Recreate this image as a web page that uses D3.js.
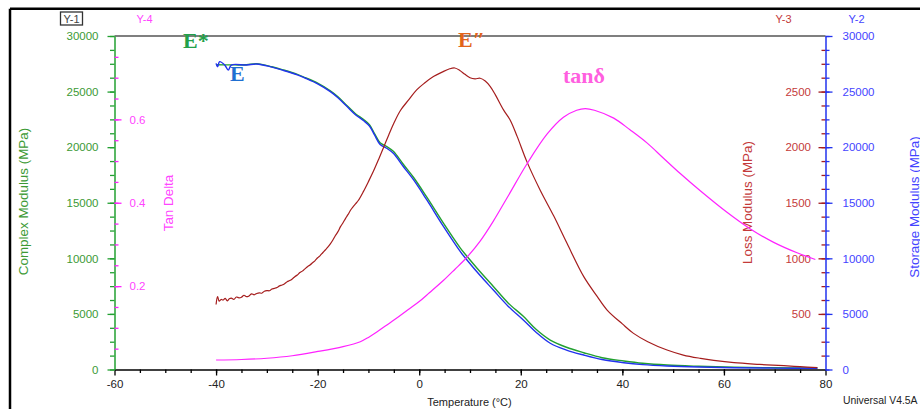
<!DOCTYPE html>
<html>
<head>
<meta charset="utf-8">
<script src="https://cdn.jsdelivr.net/npm/d3@7"></script>
<style>
  body { margin: 0; background: #fff; }
  svg { display: block; }
  text { font-family: "Liberation Sans", Arial, sans-serif; }
</style>
</head>
<body>
<svg id="chart" width="920" height="409"></svg>
<script>
// ---- DMA sweep data (temperature in °C) ----
const storageTemp = [-40,-39.7,-39.3,-38.3,-37.6,-37,-34,-32,-29,-26.7,-24,-22.4,-20,-17.5,-16,-14.2,-12.5,-11,-9.8,-8.8,-7.7,-6.4,-5.1,-3.1,-1.1,1.5,4.8,8.1,9.4,12,14.6,17.5,20.5,23,25.8,29,32.4,36,40.3,44,48.8,55,62,70,78.4];
const storageModulus = [27540,27240,27690,27390,26940,27390,27390,27480,27200,26900,26500,26200,25700,25000,24450,23650,22900,22400,21900,21100,20250,19900,19450,18240,17050,15250,12850,10600,9850,8450,7150,5700,4450,3350,2360,1750,1300,900,610,440,315,220,160,125,108];

const complexTemp = [-40,-37,-34,-32,-29,-26.7,-24,-22.4,-20,-17.5,-16,-14.2,-12.5,-11,-9.8,-8.8,-7.7,-6.4,-5.1,-3.1,-1.1,1.5,4.8,8.1,9.4,12,14.6,17.5,20.5,23,25.8,29,32.4,36,40.3,44,48.8,55,62,70,78.4];
const complexModulus = [27420,27400,27410,27500,27230,26940,26550,26250,25760,25070,24530,23730,22990,22500,22020,21230,20400,20060,19630,18440,17270,15500,13140,10920,10190,8790,7470,5990,4780,3620,2650,2000,1510,1060,765,560,400,290,200,160,135];

const lossTemp = [-40,-39.7,-39.4,-39,-38.6,-38.2,-37.8,-37.4,-37,-36.5,-36,-35.5,-35,-34.5,-34,-33.5,-33,-32.5,-32,-31.5,-31,-30.5,-30,-29.5,-29,-28.5,-28,-27.5,-27,-26.5,-26,-25.5,-25,-24.5,-24,-23.5,-23,-22.5,-22,-21.5,-21,-20.5,-20,-19.5,-19,-18.5,-18,-17.5,-17,-16.5,-16,-15.5,-15,-14.5,-14,-13.5,-13,-12.5,-12,
  -11,-10,-9,-8,-7,-6,-5,-3.7,-2,-0.5,1,2.8,4.5,6,7,8,9,10,11,12,13,14,15,16.6,17.9,19.3,21.2,23.8,26.5,29.1,32.4,35,37,40,42.2,45,48.8,52,55.4,58,62,67,71.8,75,78.4];
const lossModulus = [585,655,615,630,625,640,618,636,642,630,652,645,650,668,655,662,680,672,684,690,686,704,710,708,724,730,738,752,760,772,790,800,815,835,850,872,885,905,925,940,960,980,1005,1025,1050,1075,1100,1130,1165,1205,1240,1285,1320,1360,1395,1435,1465,1492,1520,
  1600,1690,1785,1890,2000,2110,2215,2330,2430,2515,2575,2635,2675,2705,2712,2690,2655,2625,2615,2620,2595,2545,2470,2335,2245,2095,1870,1615,1380,1135,835,660,535,410,325,250,175,130,100,82,61,46,34,25,16];

const tanTemp = [-40,-35,-30,-25,-20.2,-15,-11.6,-10,-8,-6,-4,-2,0,2,4.8,7,9.3,12,14.6,17.6,21.2,25.2,28.4,31,32.7,34.5,38.3,41.5,44.9,48,51.4,55.4,60.6,65.2,69.8,74.4,78];
const tanDelta = [0.0228,0.024,0.027,0.033,0.0427,0.055,0.0667,0.077,0.093,0.11,0.127,0.145,0.163,0.184,0.214,0.24,0.268,0.308,0.356,0.418,0.493,0.565,0.605,0.622,0.626,0.622,0.603,0.575,0.543,0.508,0.47,0.428,0.377,0.337,0.305,0.28,0.264];

// axis ticks
const tempTicks = [-60,-40,-20,0,20,40,60,80];
const modulusTicks = [0,5000,10000,15000,20000,25000,30000];
const lossTicks = [500,1000,1500,2000,2500];
const tanTicks = [0.2,0.4,0.6];

(function draw() {
  const svg = d3.select("#chart");
  const pL = 114.5, pR = 825.5, pT = 36, pB = 369.5;

  const x = d3.scaleLinear([-60, 80], [pL, pR]);
  const yComplex = d3.scaleLinear([0, 30000], [pB, pT]);
  const yStorage = d3.scaleLinear([0, 30000], [pB, pT]);
  const yLoss = d3.scaleLinear([0, 3000], [pB, pT]);
  const yTan = d3.scaleLinear([0, 0.8], [pB, pT]);

  const C = {
    green: "#22a030", greenText: "#3c9a35",
    blue: "#2233ee", blueText: "#4444ff",
    red: "#a51d1d", redText: "#c43a3a",
    magenta: "#ff22ff", magentaText: "#ff44ff"
  };
  const plain = d3.format("d");

  // outer frame (top and left edges)
  svg.append("line").attr("x1", 10).attr("x2", 920).attr("y1", 8.7).attr("y2", 8.7)
    .attr("stroke", "#000").attr("stroke-width", 2.5);
  svg.append("line").attr("x1", 10).attr("x2", 10).attr("y1", 8.7).attr("y2", 409)
    .attr("stroke", "#000").attr("stroke-width", 2.5);

  // top border of plot
  svg.append("line").attr("x1", pL).attr("x2", pR).attr("y1", pT).attr("y2", pT)
    .attr("stroke", "#555").attr("stroke-width", 1.4);

  function paint(g, stroke, fill, size, keepDomain) {
    g.attr("font-size", null).attr("font-family", null);
    if (!keepDomain) g.select(".domain").remove();
    g.select(".domain").attr("stroke", stroke).attr("stroke-width", 1.5);
    g.selectAll(".tick line").attr("stroke", stroke).attr("stroke-width", 1.3);
    g.selectAll(".tick text").attr("fill", fill).style("font-size", size + "px");
  }

  // bottom temperature axis
  svg.append("g").attr("transform", `translate(0,${pB})`)
    .call(d3.axisBottom(x).tickValues(d3.range(-55, 80, 5)).tickSize(3.5).tickFormat(""))
    .call(g => paint(g, "#000", "#000", 11.5, false));
  svg.append("g").attr("transform", `translate(0,${pB})`)
    .call(d3.axisBottom(x).tickValues(tempTicks).tickSize(6).tickSizeOuter(0).tickPadding(4).tickFormat(d => String(d)))
    .call(g => paint(g, "#000", "#222", 11.5, true));

  // left: complex modulus (Y-1)
  svg.append("g").attr("transform", `translate(${pL},0)`)
    .call(d3.axisLeft(yComplex).tickValues(d3.range(0, 30001, 1250)).tickSize(4.5).tickFormat(""))
    .call(g => paint(g, C.green, C.greenText, 11.5, false));
  svg.append("g").attr("transform", `translate(${pL},0)`)
    .call(d3.axisLeft(yComplex).tickValues(modulusTicks).tickSize(7).tickSizeOuter(0).tickPadding(9).tickFormat(plain))
    .call(g => paint(g, C.green, C.greenText, 11.5, true));

  // left inner: tan delta (Y-4)
  svg.append("g").attr("transform", `translate(${pL},0)`)
    .call(d3.axisRight(yTan).tickValues(d3.range(1, 16).map(i => i * 0.05)).tickSize(4).tickFormat(""))
    .call(g => paint(g, C.magenta, C.magentaText, 11.5, false));
  svg.append("g").attr("transform", `translate(${pL},0)`)
    .call(d3.axisRight(yTan).tickValues(tanTicks).tickSize(7).tickPadding(8).tickFormat(d3.format(".1f")))
    .call(g => paint(g, C.magenta, C.magentaText, 11.5, false));

  // right: storage modulus (Y-2) and loss modulus (Y-3)
  svg.append("g").attr("transform", `translate(${pR},0)`)
    .call(d3.axisLeft(yLoss).tickValues(d3.range(125, 3000, 125)).tickSize(4).tickFormat(""))
    .call(g => paint(g, C.red, C.redText, 11.5, false));
  svg.append("g").attr("transform", `translate(${pR},0)`)
    .call(d3.axisLeft(yLoss).tickValues(lossTicks).tickSize(7).tickPadding(7.5).tickFormat(plain))
    .call(g => paint(g, C.red, C.redText, 11.5, false));
  svg.append("g").attr("transform", `translate(${pR},0)`)
    .call(d3.axisRight(yStorage).tickValues(d3.range(0, 30001, 1250)).tickSize(4).tickFormat(""))
    .call(g => paint(g, C.blue, C.blueText, 11.5, false));
  svg.append("g").attr("transform", `translate(${pR},0)`)
    .call(d3.axisRight(yStorage).tickValues(modulusTicks).tickSize(7).tickSizeOuter(0).tickPadding(10).tickFormat(plain))
    .call(g => paint(g, C.blue, C.blueText, 11.5, true));

  // axis titles
  function vTitle(tx, ty, label, color) {
    svg.append("text").attr("transform", `translate(${tx},${ty}) rotate(-90)`)
      .attr("text-anchor", "middle").attr("fill", color).style("font-size", "13.4px").text(label);
  }
  vTitle(28, 201.5, "Complex Modulus (MPa)", C.greenText);
  vTitle(173, 203, "Tan Delta", C.magentaText);
  vTitle(752, 202.5, "Loss Modulus (MPa)", C.redText);
  vTitle(918.5, 207, "Storage Modulus (MPa)", C.blueText);

  svg.append("text").attr("x", 469.5).attr("y", 406).attr("text-anchor", "middle")
    .attr("fill", "#222").style("font-size", "11px").text("Temperature (°C)");
  svg.append("text").attr("x", 843).attr("y", 404)
    .attr("fill", "#222").style("font-size", "10.4px").text("Universal V4.5A");

  // axis identifiers
  svg.append("rect").attr("x", 60.5).attr("y", 12).attr("width", 22).attr("height", 13)
    .attr("fill", "none").attr("stroke", "#333").attr("stroke-width", 1.3);
  const ids = [
    { t: "Y-1", x: 71.5, c: "#444" },
    { t: "Y-4", x: 144.5, c: C.magentaText },
    { t: "Y-3", x: 783.5, c: C.redText },
    { t: "Y-2", x: 856.5, c: C.blueText }
  ];
  svg.selectAll("text.yid").data(ids).join("text").attr("class", "yid")
    .attr("x", d => d.x).attr("y", 22.5).attr("text-anchor", "middle")
    .attr("fill", d => d.c).style("font-size", "11px").text(d => d.t);

  // ---- curves ----
  function curve(temps, vals, yScale, color, width) {
    const pts = temps.map((t, i) => [t, vals[i]]);
    svg.append("path").datum(pts)
      .attr("fill", "none").attr("stroke", color).attr("stroke-width", width)
      .attr("stroke-linejoin", "round")
      .attr("d", d3.line().x(d => x(d[0])).y(d => yScale(d[1])).curve(d3.curveCatmullRom.alpha(0.5)));
  }
  curve(complexTemp, complexModulus, yComplex, C.green, 1.4);
  curve(storageTemp, storageModulus, yStorage, C.blue, 1.4);
  curve(lossTemp, lossModulus, yLoss, C.red, 1.2);
  curve(tanTemp, tanDelta, yTan, C.magenta, 1.2);

  // ---- curve labels ----
  const tags = [
    { t: "E*", x: 183, y: 48, c: "#22a04a" },
    { t: "E", x: 230, y: 81, c: "#1f6fd1" },
    { t: "E\u2033", x: 458, y: 47, c: "#e2641a" },
    { t: "tan\u03b4", x: 563, y: 83, c: "#ff5fe0" }
  ];
  svg.selectAll("text.tag").data(tags).join("text").attr("class", "tag")
    .attr("x", d => d.x).attr("y", d => d.y).attr("fill", d => d.c)
    .style("font-family", '"Liberation Serif", "DejaVu Serif", serif')
    .style("font-weight", "bold").style("font-size", "22px").text(d => d.t);
})();
</script>
</body>
</html>
